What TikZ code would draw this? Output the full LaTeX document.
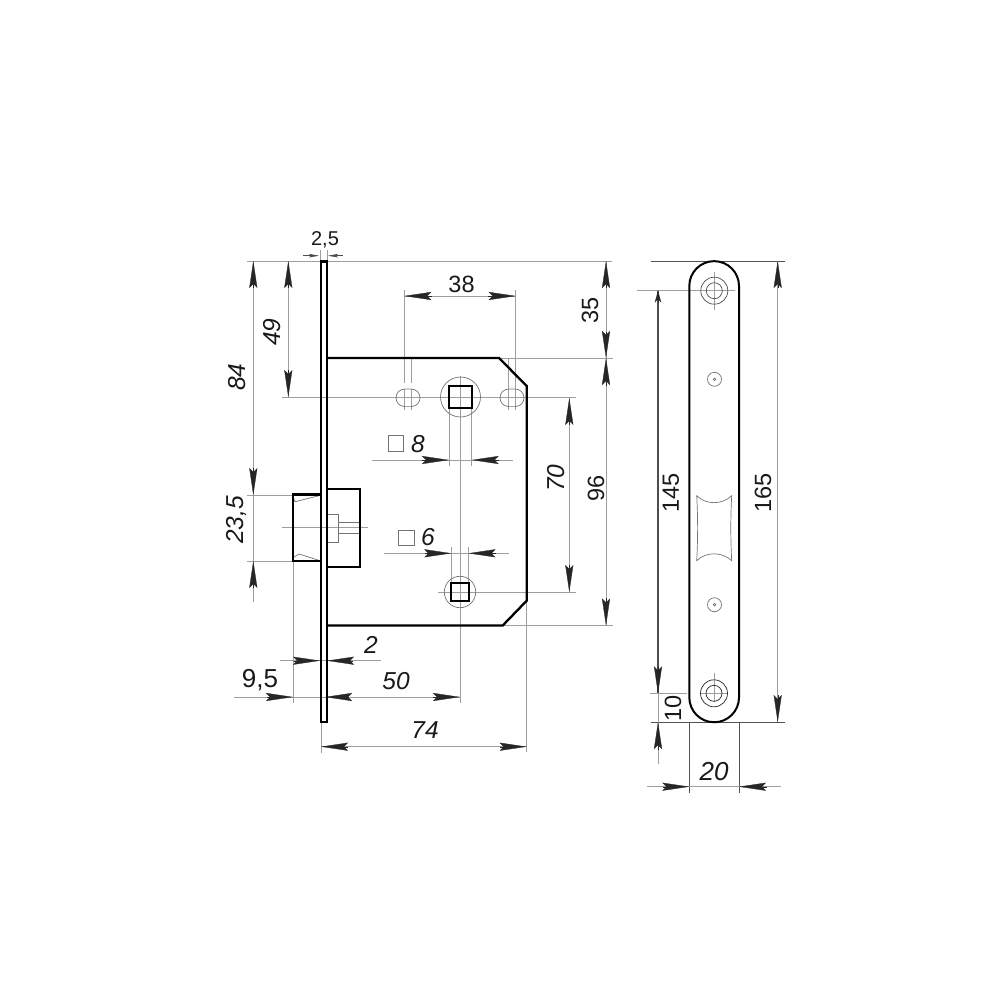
\documentclass[tikz,border=0pt]{standalone}
\usepackage{fontspec}
\setmainfont{Liberation Sans}
\usetikzlibrary{arrows.meta}
\usetikzlibrary{positioning}
\newcommand{\uptag}[3]{\node(#1)[dimtag] at #2 {#3}}
\newcommand{\sidetag}[3]{\node(#1)[dimtag,rotate=90] at #2 {#3}}
\newcommand{\itag}[3]{\node(#1)[dimtag,font=\fontsize{24.5}{26}\selectfont\itshape] at #2 {#3}}
\newcommand{\sideitag}[3]{\node(#1)[dimtag,rotate=90,font=\fontsize{24.5}{26}\selectfont\itshape] at #2 {#3}}

\begin{document}
\begin{tikzpicture}[
        x=1pt,y=-1pt,
        dimtag/.style={inner sep=0pt,text=black!90,font=\fontsize{23.5}{26}\selectfont},
        fine/.style={line width=0.6pt,draw=black!38},
        mid/.style={line width=0.8pt,draw=black!68},
        outline/.style={line width=2.3pt,draw=black,line join=miter},
        thinshape/.style={line width=0.7pt,draw=black!55},
        dimtip/.style={line width=0.3pt,draw=black!85,
          -{Stealth[length=27pt,width=8pt,inset=4pt,fill=black!85]}},
        smalltip/.style={line width=0.5pt,draw=black!70,
          -{Stealth[length=10pt,width=3.5pt,inset=2pt,fill=black!70]}}
      ]
      \useasboundingbox (0,0) rectangle (1000,1000);

      % extension lines, side view
      \draw[fine] (247,261) -- (612,261);
      \draw[fine] (499,358) -- (613,358);
      \draw[fine] (503,625.5) -- (613,625.5);
      \draw[fine] (282,397) -- (576,397);
      \draw[fine] (438,592) -- (576,592);
      \draw[fine] (247,495) -- (320,495);
      \draw[fine] (247,561) -- (320,561);
      \draw[fine] (282,527.7) -- (368,527.7);
      \draw[fine] (460.5,376) -- (460.5,703);
      \draw[fine] (404.3,290) -- (404.3,383);
      \draw[fine] (411,358) -- (411,383);
      \draw[fine] (404.3,389) -- (404.3,410);
      \draw[fine] (411,389) -- (411,410);
      \draw[fine] (515.7,290) -- (515.7,410);
      \draw[fine] (508.3,358) -- (508.3,410);
      \draw[fine] (449,408) -- (449,466);
      \draw[fine] (471.7,408) -- (471.7,466);
      \draw[fine] (451.3,547) -- (451.3,583);
      \draw[fine] (468.5,547) -- (468.5,583);
      \draw[fine] (320.7,250) -- (320.7,261);
      \draw[fine] (327,250) -- (327,261);
      \draw[fine] (293,561) -- (293,703);
      \draw[fine] (321,722) -- (321,753);
      \draw[fine] (526.7,600) -- (526.7,752);

      % dimension lines, side view
      \draw[fine] (404.3,296) -- (515.7,296);
      \draw[fine] (372,460) -- (513,460);
      \draw[fine] (384,553.3) -- (509,553.3);
      \draw[fine] (606,261) -- (606,625.5);
      \draw[fine] (569.3,398) -- (569.3,592);
      \draw[fine] (253.3,261) -- (253.3,602);
      \draw[fine] (288.3,261) -- (288.3,397);
      \draw[fine] (280,660.7) -- (381,660.7);
      \draw[fine] (234,697) -- (460,697);
      \draw[fine] (321,746.7) -- (526.7,746.7);

      % arrow tips, side view
      \draw[dimtip] (432,296) -- (404.3,296);
      \draw[dimtip] (488,296) -- (515.7,296);
      \draw[dimtip] (421.7,460) -- (449,460);
      \draw[dimtip] (499,460) -- (471.7,460);
      \draw[dimtip] (425,553.3) -- (451.3,553.3);
      \draw[dimtip] (495.7,553.3) -- (468.5,553.3);
      \draw[dimtip] (606,288) -- (606,261);
      \draw[dimtip] (606,331.5) -- (606,358);
      \draw[dimtip] (606,386) -- (606,358);
      \draw[dimtip] (606,598) -- (606,625.5);
      \draw[dimtip] (569.3,425) -- (569.3,398);
      \draw[dimtip] (569.3,565) -- (569.3,592);
      \draw[dimtip] (253.3,288) -- (253.3,261);
      \draw[dimtip] (253.3,468) -- (253.3,495);
      \draw[dimtip] (253.3,588) -- (253.3,561);
      \draw[dimtip] (288.3,288) -- (288.3,261);
      \draw[dimtip] (288.3,370) -- (288.3,397);
      \draw[dimtip] (294,660.7) -- (320,660.7);
      \draw[dimtip] (353,660.7) -- (327,660.7);
      \draw[dimtip] (267,697) -- (293,697);
      \draw[dimtip] (348,697) -- (325,697);
      \draw[dimtip] (433,697) -- (460,697);
      \draw[dimtip] (348,746.7) -- (321,746.7);
      \draw[dimtip] (500,746.7) -- (526.7,746.7);
      \draw[smalltip] (303,255.7) -- (319,255.7);
      \draw[smalltip] (343,255.7) -- (328,255.7);

      % holes
      \draw[thinshape] (460.5,397) circle (20);
      \draw[thinshape] (460,592) circle (15.7);
      \draw[thinshape] (404.8,389) -- (411.2,389) arc (-90:90:8.8) -- (404.8,406.6) arc (90:270:8.8) -- cycle;
      \draw[thinshape] (508.8,389) -- (515.2,389) arc (-90:90:8.8) -- (508.8,406.6) arc (90:270:8.8) -- cycle;

      % bolt details
      \draw[thinshape] (319,495.7) -- (295,501.7) -- (293,497);
      \draw[thinshape] (318,560) -- (299,554) -- (294,557);
      \draw[thinshape] (327,514) -- (338,514) -- (338,542) -- (327,542);
      \draw[thinshape] (338,522.3) -- (359,522.3);
      \draw[thinshape] (338,533.3) -- (359,533.3);

      % side view outlines
      \draw[outline] (320.7,261.5) rectangle (327.3,722);
      \draw[outline] (327.3,358) -- (499,358) -- (526.7,386) -- (526.7,600.7) -- (502.7,625.5) -- (327.3,625.5);
      \draw[outline] (449,386) rectangle (471.7,408);
      \draw[outline] (451.3,582.7) rectangle (469.3,601);
      \draw[outline] (320,494.5) -- (292.7,494.5) -- (292.7,561) -- (320,561);
      \draw[outline] (327.3,489) -- (360,489) -- (360,566.7) -- (327.3,566.7);

      % size squares
      \draw[thinshape] (388,435.5) rectangle (403,451);
      \draw[thinshape] (398.3,530) rectangle (414.7,545);

      % front view
      \draw[mid] (650.7,261) -- (785,261);
      \draw[mid] (650.7,722) -- (785,722);
      \draw[fine] (637.3,290.7) -- (735,290.7);
      \draw[fine] (714.3,272) -- (714.3,310);
      \draw[fine] (650,693.3) -- (687,693.3);
      \draw[fine] (700,693.3) -- (728,693.3);
      \draw[fine] (714.3,673) -- (714.3,702);
      \draw[line width=1.3pt,draw=black!70] (658,290.7) -- (658,693.3);
      \draw[fine] (658,693.3) -- (658,764);
      \draw[fine] (777.7,261) -- (777.7,722);
      \draw[mid] (689.3,722) -- (689.3,793);
      \draw[mid] (739,722) -- (739,793);
      \draw[fine] (647,786.7) -- (781,786.7);
      \draw[dimtip] (777.7,288) -- (777.7,261);
      \draw[dimtip] (777.7,695) -- (777.7,722);
      \draw[dimtip] (658,666.7) -- (658,693.3);
      \draw[dimtip] (658,750) -- (658,722);
      \draw[dimtip] (662.7,786.7) -- (689.3,786.7);
      \draw[dimtip] (767,786.7) -- (739,786.7);
      \draw[line width=0.3pt,draw=black!85,-{Stealth[length=12pt,width=6.5pt,fill=black!85]}] (658,302.7) -- (658,290.7);

      \draw[outline,line width=2pt] (689.3,286) arc (180:360:24.85) -- (739,697.4) arc (0:180:24.85) -- cycle;
      \draw[thinshape,draw=black!70] (714.3,290.7) circle (13.5);
      \draw[thinshape,draw=black!70] (714.3,290.7) circle (8);
      \draw[thinshape,draw=black!85] (714,693.3) circle (13.5);
      \draw[thinshape,draw=black!85] (714,693.3) circle (8);
      \draw[thinshape] (714.5,379.3) circle (7);
      \draw[thinshape] (714.5,379.3) circle (1.3);
      \draw[thinshape] (714.5,604.7) circle (7);
      \draw[thinshape] (714.5,604.7) circle (1.3);
      \draw[thinshape] (696.7,495.7) .. controls (706,505) and (722,505) .. (731.7,495.7)
        .. controls (730.5,517) and (730.5,539) .. (731.7,560.7)
        .. controls (722,551.5) and (706,551.5) .. (696.7,560.7)
        .. controls (697.9,539) and (697.9,517) .. (696.7,495.7) -- cycle;

      % dimension texts
      \node(twofive)[dimtag,font=\fontsize{20}{22}\selectfont] at (325,239.5) {2,5};
      \uptag{thirtyeight}{(461.5,284)}{38};
      \uptag{ninefive}{(260,680)}{\fontsize{26}{28}\selectfont 9,5};
      \sidetag{thirtyfive}{(590,310)}{35};
      \sidetag{ninetysix}{(596,488)}{96};
      \sidetag{onefortyfive}{(671,492.7)}{145};
      \sidetag{onesixtyfive}{(763,492.7)}{165};
      \sidetag{ten}{(673,708)}{10};
      \sideitag{seventy}{(556,478)}{70};
      \sideitag{eightyfour}{(237,377)}{84};
      \sideitag{fortynine}{(272,332)}{49};
      \sideitag{twentythree}{(237,520)}{23,5};
      \itag{eight}{(418,444)}{8};
      \itag{six}{(428,537)}{6};
      \itag{two}{(371,645)}{2};
      \itag{fifty}{(396,681)}{50};
      \itag{seventyfour}{(425,730)}{74};
      \itag{twenty}{(714,772)}{\fontsize{26}{28}\selectfont 20};
    \end{tikzpicture}
\end{document}
